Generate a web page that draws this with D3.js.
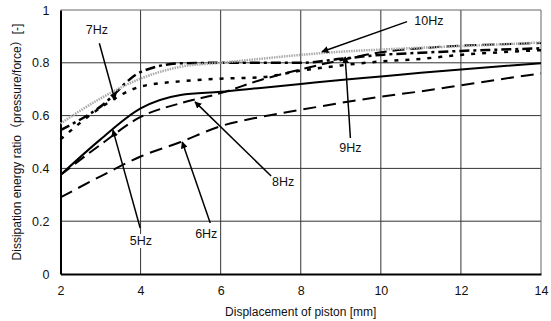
<!DOCTYPE html>
<html>
<head>
<meta charset="utf-8">
<script src="https://cdn.jsdelivr.net/npm/d3@7"></script>
<style>
  body { margin: 0; background: #fff; }
  text { font-family: "Liberation Sans", Arial, "Noto Sans CJK JP", sans-serif; fill: #111; }
</style>
</head>
<body>
<div id="chart"></div>
<script>
// displacement of piston [mm]
var disp = [2, 3, 4, 5, 6, 7, 8, 9, 10, 11, 12, 13, 14];

// dissipation energy ratio per frequency
var hz5  = [0.375, 0.51, 0.627, 0.678, 0.69, 0.705, 0.72, 0.735, 0.748, 0.762, 0.775, 0.787, 0.798];
var hz6  = [0.29, 0.37, 0.445, 0.50, 0.56, 0.595, 0.622, 0.648, 0.672, 0.692, 0.715, 0.738, 0.76];
var hz7  = [0.51, 0.63, 0.71, 0.73, 0.74, 0.745, 0.77, 0.79, 0.805, 0.815, 0.83, 0.84, 0.848];
var hz8  = [0.375, 0.49, 0.595, 0.647, 0.685, 0.735, 0.775, 0.81, 0.84, 0.855, 0.865, 0.87, 0.875];
var hz9  = [0.545, 0.634, 0.765, 0.798, 0.80, 0.80, 0.80, 0.815, 0.83, 0.838, 0.845, 0.85, 0.855];
var hz10 = [0.57, 0.665, 0.74, 0.785, 0.80, 0.815, 0.83, 0.842, 0.85, 0.857, 0.863, 0.87, 0.877];

var xTicks = [2, 4, 6, 8, 10, 12, 14];
var yTicks = [0, 0.2, 0.4, 0.6, 0.8, 1];

// label text, label pos, arrow start, arrow tip (data units)
var labelNames = ["5Hz", "6Hz", "7Hz", "8Hz", "9Hz", "10Hz"];
var labelPos   = [[4.01, 0.125], [5.64, 0.152], [2.91, 0.924], [7.56, 0.348], [9.24, 0.477], [11.2, 0.958]];
var arrowFrom  = [[3.99, 0.174], [5.74, 0.193], [2.97, 0.874], [7.26, 0.371], [9.24, 0.515], [10.655, 0.956]];
var arrowTo    = [[3.31, 0.545], [5.04, 0.50], [3.36, 0.659], [5.36, 0.652], [9.11, 0.822], [8.53, 0.842]];

var W = 551, H = 321;
var margin = {top: 10, right: 10, bottom: 47, left: 60.5};

var svg = d3.select("#chart").append("svg")
    .attr("width", W)
    .attr("height", H);

var x = d3.scaleLinear().domain([2, 14]).range([margin.left, W - margin.right]);
var y = d3.scaleLinear().domain([0, 1]).range([H - margin.bottom, margin.top]);

// grid
svg.append("g").selectAll("line.vg")
    .data(xTicks.slice(1, -1))
    .enter().append("line")
      .attr("x1", function(d) { return x(d); })
      .attr("x2", function(d) { return x(d); })
      .attr("y1", y(0)).attr("y2", y(1))
      .attr("stroke", "#333").attr("stroke-width", 1);
svg.append("g").selectAll("line.hg")
    .data(yTicks.slice(1, -1))
    .enter().append("line")
      .attr("y1", function(d) { return y(d); })
      .attr("y2", function(d) { return y(d); })
      .attr("x1", x(2)).attr("x2", x(14))
      .attr("stroke", "#333").attr("stroke-width", 1);

// frame top/right
svg.append("line").attr("x1", x(2)).attr("x2", x(14)).attr("y1", y(1)).attr("y2", y(1))
    .attr("stroke", "#666").attr("stroke-width", 1);
svg.append("line").attr("x1", x(14)).attr("x2", x(14)).attr("y1", y(1)).attr("y2", y(0))
    .attr("stroke", "#666").attr("stroke-width", 1);

// axes
var xAxis = svg.append("g")
    .attr("transform", "translate(0," + y(0) + ")")
    .call(d3.axisBottom(x).tickValues(xTicks).tickSize(0).tickPadding(12).tickFormat(d3.format("d")));
var yAxis = svg.append("g")
    .attr("transform", "translate(" + x(2) + ",0)")
    .call(d3.axisLeft(y).tickValues(yTicks).tickSize(0).tickPadding(11)
        .tickFormat(function(d) { return d === 0 || d === 1 ? d3.format("d")(d) : d3.format(".1f")(d); }));
[xAxis, yAxis].forEach(function(a) {
    a.select(".domain").attr("stroke", "#000").attr("stroke-width", 2);
    a.selectAll("text").style("font-size", "12.5px").style("font-family", "'Liberation Sans', Arial, sans-serif").attr("fill", "#111");
});

// series
var series = [
    {v: hz6,  color: "#000", width: 2,   dash: "13,7"},
    {v: hz5,  color: "#000", width: 2,   dash: null},
    {v: hz8,  color: "#000", width: 2,   dash: "12,6"},
    {v: hz7,  color: "#000", width: 2.5, dash: "4,7"},
    {v: hz9,  color: "#000", width: 2.5, dash: "10,4,3,4"},
    {v: hz10, color: "#aaa", width: 2.5, dash: "1.5,1"}
];

var line = d3.line()
    .x(function(d, i) { return x(disp[i]); })
    .y(function(d) { return y(d); })
    .curve(d3.curveMonotoneX);

svg.append("g").selectAll("path")
    .data(series)
    .enter().append("path")
      .attr("d", function(d) { return line(d.v); })
      .attr("fill", "none")
      .attr("stroke", function(d) { return d.color; })
      .attr("stroke-width", function(d) { return d.width; })
      .attr("stroke-dasharray", function(d) { return d.dash; });

// arrow head
svg.append("defs").append("marker")
    .attr("id", "arr")
    .attr("viewBox", "0 0 10 10")
    .attr("refX", 9).attr("refY", 5)
    .attr("markerWidth", 7).attr("markerHeight", 7)
    .attr("markerUnits", "userSpaceOnUse")
    .attr("orient", "auto")
  .append("path")
    .attr("d", "M0,0 L10,5 L0,10 z")
    .attr("fill", "#000");

// labels
var lab = svg.append("g").selectAll("g")
    .data(labelNames)
    .enter().append("g");
lab.append("text")
    .attr("x", function(d, i) { return x(labelPos[i][0]); })
    .attr("y", function(d, i) { return y(labelPos[i][1]); })
    .attr("text-anchor", "middle")
    .attr("dominant-baseline", "central")
    .style("font-size", "12.5px")
    .text(function(d) { return d; })
    .each(function() {
        var b = this.getBBox();
        d3.select(this.parentNode).insert("rect", "text")
            .attr("x", b.x - 1).attr("y", b.y)
            .attr("width", b.width + 2).attr("height", b.height)
            .attr("fill", "#fff");
    });
lab.append("line")
    .attr("x1", function(d, i) { return x(arrowFrom[i][0]); })
    .attr("y1", function(d, i) { return y(arrowFrom[i][1]); })
    .attr("x2", function(d, i) { return x(arrowTo[i][0]); })
    .attr("y2", function(d, i) { return y(arrowTo[i][1]); })
    .attr("stroke", "#000").attr("stroke-width", 1.5)
    .attr("marker-end", "url(#arr)");

// axis titles
svg.append("text")
    .attr("x", (x(2) + x(14)) / 2)
    .attr("y", 316)
    .attr("text-anchor", "middle")
    .style("font-size", "12px")
    .text("Displacement of piston [mm]");
svg.append("text")
    .attr("transform", "translate(21," + (y(0) + y(1)) / 2 + ") rotate(-90)")
    .attr("text-anchor", "middle")
    .style("font-size", "12px")
    .text("Dissipation energy ratio（pressure/force）[-]");
</script>
</body>
</html>
